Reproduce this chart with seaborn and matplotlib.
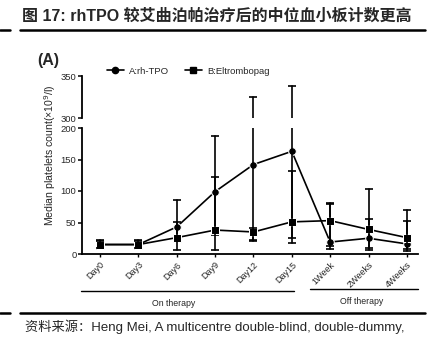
import numpy as np
import pandas as pd
import matplotlib
matplotlib.use("Agg")
import matplotlib.pyplot as plt
from matplotlib.lines import Line2D
import seaborn as sns

sns.set_theme(style="white")
plt.rcParams['font.family'] = ['Liberation Sans', 'Noto Sans CJK SC', 'DejaVu Sans']

# ---- data ----
categories = ["Day0", "Day3", "Day6", "Day9", "Day12", "Day15", "1Week", "2Weeks", "4Weeks"]
tpo_median = [15, 15, 43, 99, 142, 163, 19, 25, 16]
tpo_low    = [8, 8, 20, 30, 20, 25, 8, 7, 4]
tpo_high   = [22, 22, 85, 187, 325, 338, 79, 55, 53]
elt_median = [15, 15, 26, 38, 35, 51, 53, 39, 26]
elt_low    = [9, 9, 7, 6, 22, 17, 12, 10, 8]
elt_high   = [21, 20, 51, 122, 42, 131, 81, 103, 70]
series_names = ["A:rh-TPO", "B:Eltrombopag"]

rows = []
for name, med, lo, hi in [(series_names[0], tpo_median, tpo_low, tpo_high),
                          (series_names[1], elt_median, elt_low, elt_high)]:
    for i, c in enumerate(categories):
        for v in (lo[i], med[i], hi[i]):
            rows.append({"pos": i, "val": v, "series": name})
df = pd.DataFrame(rows)

W, H = 433, 339
fig = plt.figure(figsize=(W / 100, H / 100), dpi=100)

def fx(px):
    return px / W

def fy(py):
    return 1 - py / H

ax_l, ax_r = 82, 418
ax_top = fig.add_axes([fx(ax_l), fy(118), fx(ax_r - ax_l), (118 - 76) / H])
ax_bot = fig.add_axes([fx(ax_l), fy(254), fx(ax_r - ax_l), (254 - 128) / H])

for ax in (ax_top, ax_bot):
    sns.lineplot(data=df, x="pos", y="val", style="series", estimator="median",
                 errorbar=("pi", 100), err_style="bars", markers=["o", "s"],
                 dashes=False, color="black", linewidth=1.2, markersize=5.5,
                 err_kws={"capsize": 3.2, "elinewidth": 1.2, "capthick": 1.2},
                 legend=False, ax=ax)
    ax.set_xlim(-0.47, 8.29)
    ax.set_xlabel("")
    ax.set_ylabel("")
    ax.set_facecolor("none")
    for s in ("top", "right"):
        ax.spines[s].set_visible(False)
    ax.spines["left"].set_linewidth(1.3)
    ax.spines["left"].set_color("black")
    ax.tick_params(axis="y", which="both", left=True, length=3, width=1.1,
                   direction="out", labelsize=6.8, pad=1, color="black")

ax_top.set_ylim(300, 350)
ax_top.set_yticks([300, 350])
ax_top.spines["bottom"].set_visible(False)
ax_top.set_xticks([])

ax_bot.set_ylim(0, 200)
ax_bot.set_yticks([0, 50, 100, 150, 200])
ax_bot.spines["bottom"].set_linewidth(1.3)
ax_bot.spines["bottom"].set_color("black")
ax_bot.set_xticks(range(len(categories)))
ax_bot.set_xticklabels(categories, rotation=45, ha="right", rotation_mode="anchor", fontsize=6.5)
ax_bot.tick_params(axis="x", bottom=True, length=2.5, width=1, direction="out", pad=2, color="black")

# legend
handles = [Line2D([0], [0], color="black", marker="o", markersize=4.5, linewidth=1.2),
           Line2D([0], [0], color="black", marker="s", markersize=4.5, linewidth=1.2)]
fig.legend(handles, series_names, loc="center left", bbox_to_anchor=(fx(103), fy(71)),
           ncol=2, frameon=False, fontsize=6.8, handlelength=1.8, columnspacing=1.6,
           handletextpad=0.6, borderaxespad=0)

# y label
fig.text(fx(50), fy(155), "Median platelets count(×10$^9$/l)", rotation=90,
         ha="center", va="center", fontsize=7.6)

# (A)
fig.text(fx(37), fy(60), "(A)", fontsize=11.5, fontweight="bold", ha="left", va="center")

# therapy brackets
fig.add_artist(Line2D([fx(81), fx(294)], [fy(291), fy(291)], color="black", linewidth=1))
fig.add_artist(Line2D([fx(310), fx(418)], [fy(289), fy(289)], color="black", linewidth=1))
fig.text(fx(174), fy(303), "On therapy", fontsize=6.3, ha="center", va="center")
fig.text(fx(362), fy(301), "Off therapy", fontsize=6.3, ha="center", va="center")

# title and rules
fig.text(fx(22), fy(16), "图 17: rhTPO 较艾曲泊帕治疗后的中位血小板计数更高",
         fontsize=11.5, fontweight="bold", ha="left", va="center")
fig.add_artist(Line2D([fx(20), fx(425)], [fy(30), fy(30)], color="black", linewidth=1.8))
fig.add_artist(Line2D([fx(0), fx(10)], [fy(30), fy(30)], color="black", linewidth=1.8))
fig.add_artist(Line2D([fx(20), fx(425)], [fy(313), fy(313)], color="black", linewidth=1.8))
fig.add_artist(Line2D([fx(0), fx(10)], [fy(313), fy(313)], color="black", linewidth=1.8))

fig.text(fx(25), fy(327), "资料来源：Heng Mei, A multicentre double-blind, double-dummy,",
         fontsize=9.5, ha="left", va="center")

fig.savefig("out.png", dpi=100)
